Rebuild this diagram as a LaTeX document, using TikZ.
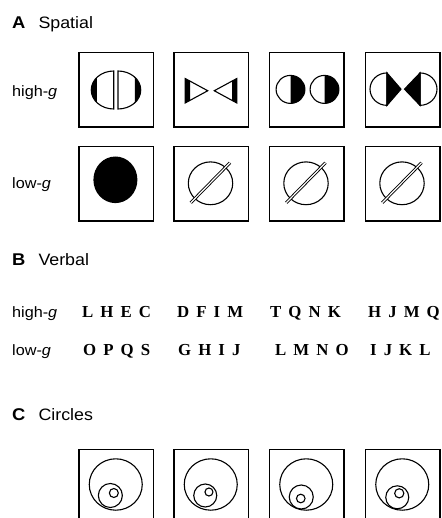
\documentclass[tikz,border=0pt]{standalone}
\usepackage{fontspec}
\setmainfont{Liberation Sans}
\newfontfamily\lettfont{Liberation Serif}
% horizontal stretch of the label fonts
\newcommand{\wide}[1]{\scalebox{1.08}[1]{#1}}
% gap between the letters of a string
\newcommand{\gp}{\hspace{0.42em}}
\begin{document}
\begin{tikzpicture}[x=1pt,y=-1pt,
  frame/.style={draw, line width=1.3pt},
  shp/.style={draw, line width=1.1pt},
  head/.style={anchor=base west, inner sep=0pt, font=\bfseries\fontsize{17}{20}\selectfont},
  title/.style={anchor=base west, inner sep=0pt, font=\fontsize{16.5}{20}\selectfont},
  rowlab/.style={anchor=base west, inner sep=0pt, font=\fontsize{15}{18}\selectfont},
  letters/.style={anchor=base west, inner sep=0pt, font=\lettfont\bfseries\fontsize{16.8}{18}\selectfont}]
\useasboundingbox (0,0) rectangle (441,518);
\clip (0,0) rectangle (441,518);

% ---------------- A: Spatial ----------------
\node[head]  (hA) at (12,28.3) {\wide{A}};
\node[title] (tA) at (38.3,28.3) {\wide{Spatial}};
\node[rowlab] (sh) at (12,96.5) {\wide{high-\textit{g}}};
\node[rowlab] (sl) at (12,189) {\wide{low-\textit{g}}};

\foreach \bx in {79,174,269.5,365.5} {
  \draw[frame] (\bx,52.5) rectangle ++(74.5,74.5);
  \draw[frame] (\bx,146.5) rectangle ++(74.5,74.5);
}

% split ellipse halves with dark outer segments
\begin{scope}[shift={(116.25,90)}]
  \begin{scope}\clip (-30,-25) rectangle (-19.5,25);
    \fill (-2.5,0) ellipse [x radius=22.5, y radius=19]; \end{scope}
  \begin{scope}\clip (18.5,-25) rectangle (30,25);
    \fill (1.75,0) ellipse [x radius=22.75, y radius=19]; \end{scope}
  \draw[shp] (-2.5,19) arc [start angle=90, end angle=270, x radius=22.5, y radius=19] -- cycle;
  \draw[shp] (1.75,-19) arc [start angle=270, end angle=450, x radius=22.75, y radius=19] -- cycle;
\end{scope}

% facing triangles with dark bases
\begin{scope}[shift={(211.25,90.75)}]
  \begin{scope}\clip (-30,-15) rectangle (-21.25,15);
    \fill (-26,-12.2) -- (-3.5,0) -- (-26,12.2) -- cycle; \end{scope}
  \begin{scope}\clip (20.75,-15) rectangle (30,15);
    \fill (25.5,-12.2) -- (3,0) -- (25.5,12.2) -- cycle; \end{scope}
  \draw[shp, line join=miter] (-26,-12.2) -- (-3.5,0) -- (-26,12.2) -- cycle;
  \draw[shp, line join=miter] (25.5,-12.2) -- (3,0) -- (25.5,12.2) -- cycle;
\end{scope}

% two circles, right halves dark
\begin{scope}[shift={(306.75,89.4)}]
  \foreach \c in {-16.25,17.75} {
    \fill (\c,-14) arc [start angle=270, end angle=450, x radius=14.4, y radius=14] -- cycle;
    \draw[shp] (\c,0) ellipse [x radius=14.4, y radius=14];
  }
\end{scope}

% half circles with dark triangles pointing inward
\begin{scope}[shift={(402.75,89.15)}]
  \draw[shp] (-15.75,16.2) arc [start angle=90, end angle=270, x radius=17, y radius=16.2] -- cycle;
  \filldraw[shp, line join=miter] (-15.75,-16.2) -- (-1.75,0) -- (-15.75,16.2) -- cycle;
  \draw[shp] (17.25,-16.2) arc [start angle=270, end angle=450, x radius=17, y radius=16.2] -- cycle;
  \filldraw[shp, line join=miter] (17.25,-16.2) -- (1.75,0) -- (17.25,16.2) -- cycle;
\end{scope}

% low row: solid disc, then crossed circles
\fill (115.4,179.8) ellipse [x radius=22, y radius=23.3];
\foreach \bx in {211.25,306.75,402.75} {
  \begin{scope}[shift={(\bx,183.75)}]
    \draw[shp] (-0.75,-0.45) ellipse [x radius=22.2, y radius=21.4];
    \draw[line width=0.9pt, double=white, double distance=1.2pt] (-20.5,19) -- (18.75,-21);
  \end{scope}
}

% ---------------- B: Verbal ----------------
\node[head]  (hB) at (12,265.7) {\wide{B}};
\node[title] (tB) at (38.3,265.7) {\wide{Verbal}};
\node[rowlab] (vh) at (12,317) {\wide{high-\textit{g}}};
\node[rowlab] (vl) at (12,355) {\wide{low-\textit{g}}};

\node[letters] (h1) at (82,317)  {L\gp H\gp E\gp C};
\node[letters] (h2) at (177,317) {D\gp F\gp I\gp M};
\node[letters] (h3) at (270,317) {T\gp Q\gp N\gp K};
\node[letters] (h4) at (368,317) {H\gp J\gp M\gp Q};
\node[letters] (l1) at (83,355)  {O\gp P\gp Q\gp S};
\node[letters] (l2) at (178,355) {G\gp H\gp I\gp J};
\node[letters] (l3) at (275,355) {L\gp M\gp N\gp O};
\node[letters] (l4) at (370,355) {I\gp J\gp K\gp L};

% ---------------- C: Circles ----------------
\node[head]  (hC) at (12,420) {\wide{C}};
\node[title] (tC) at (38.3,420) {\wide{Circles}};

% box left edge / middle circle offset / middle radius / inner offset / inner radius
\foreach \bx/\mx/\my/\mr/\ix/\iy/\ir in {
    79/-5.4/11/12/-1.9/8.5/4.5,
    174/-5.5/11/11.5/-1.8/7.5/4,
    269.5/-5/12.5/12/-5.5/14/4.3,
    365.5/-5/12.8/11.5/-3/8.8/4.6} {
  \draw[frame] (\bx,449.5) rectangle ++(74.5,74.5);
  \begin{scope}[shift={(\bx+36.75,484.5)}]
    \draw[shp] (0,0) ellipse [x radius=26.5, y radius=25.7];
    \draw[shp] (\mx,\my) circle [radius=\mr];
    \draw[shp] (\ix,\iy) circle [radius=\ir];
  \end{scope}
}
\end{tikzpicture}
\end{document}
